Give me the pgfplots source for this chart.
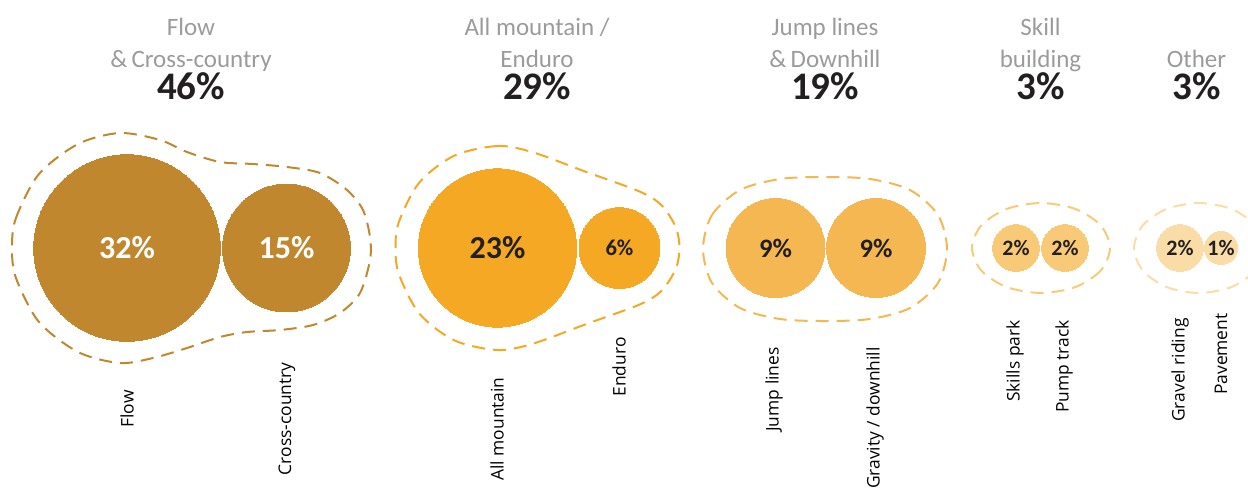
\documentclass[border=0pt]{standalone}
\usepackage{pgfplots}
\pgfplotsset{compat=1.18}
\usepackage{fontspec}
\setmainfont{Open Sans}
\newfontfamily\tfont{Carlito}
\definecolor{cA}{HTML}{C1872E}
\definecolor{cB}{HTML}{F4A824}
\definecolor{cC}{HTML}{F5B752}
\definecolor{cD}{HTML}{F8CA78}
\definecolor{cE}{HTML}{FADDA6}
\definecolor{tgray}{HTML}{9B9B9D}
\definecolor{tdark}{HTML}{231F20}
\tikzset{gt/.style={anchor=base, inner sep=0pt, text=tgray, font=\tfont\fontsize{12.5}{12.5}\selectfont},
         gp/.style={anchor=base, inner sep=0pt, text=tdark, font=\tfont\bfseries\fontsize{19.5}{19.5}\selectfont},
         cl/.style={rotate=90, anchor=east, inner sep=0pt, text=black, font=\fontsize{8.7}{8.7}\selectfont}}
\pgfplotsset{
  bub/.style={only marks, mark=*, color=#1, mark options={draw=#1, fill=#1, line width=0pt}},
  lab/.style 2 args={only marks, mark=none,
    point meta=explicit symbolic,
    nodes near coords={\tfont\bfseries\fontsize{#2}{#2}\selectfont\pgfplotspointmeta\%},
    nodes near coords align=center,
    every node near coord/.append style={text=#1, inner sep=0pt, anchor=center}},
  outl/.style={draw=#1, line width=1pt, dash pattern=on 6.5pt off 4pt, smooth cycle, no marks, fill=none}
}
\begin{document}
\begin{tikzpicture}
\begin{axis}[
  width=624pt, height=244.5pt, scale only axis,
  xmin=0, xmax=1248, ymin=0, ymax=489, y dir=reverse,
  hide axis, clip=true]
\coordinate (LL) at (rel axis cs:0,0);
\coordinate (UR) at (rel axis cs:1,1);
% outlines
\addplot[outl=cA] coordinates {(12,248) (15.9,218.2) (38.9,174.1) (78.4,143.8) (120,133) (160,140) (187,152) (220,162) (253,164) (287,167) (320,173) (347,190) (363,210) (370,237) (370,260) (360,293) (340,313) (313,325) (280,330) (247,332) (220,337) (187,348) (153,358) (120,363) (78.4,352.2) (38.9,321.9) (15.9,277.8)};
\addplot[outl=cB] coordinates {(532.6,152.2) (497.5,146) (454.4,155.6) (419.4,182.4) (399,221.6) (395.5,248) (399,274.4) (419.4,313.6) (454.4,340.4) (497.5,350) (532.6,343.8) (586.4,324) (640.1,304.3) (661.9,290.4) (675.9,268.5) (679.5,248) (675.9,227.5) (661.9,205.6) (640.1,191.7) (586.4,172)};
\addplot[outl=cC] coordinates {(703,249) (712,215) (740,190) (780,179) (825,177) (870,179) (910,190) (938,215) (947,249) (938,283) (910,308) (870,319) (825,321) (780,319) (740,308) (712,283)};
\addplot[outl=cD] coordinates {(1110,248) (1100.8,270.5) (1075.5,287) (1041,293) (1006.5,287) (981.2,270.5) (972,248) (981.2,225.5) (1006.5,209) (1041,203) (1075.5,209) (1100.8,225.5)};
\addplot[outl=cE] coordinates {(1264,248) (1255.3,270.5) (1231.5,287) (1199,293) (1166.5,287) (1142.7,270.5) (1134,248) (1142.7,225.5) (1166.5,209) (1199,203) (1231.5,209) (1255.3,225.5)};
% bubbles: area proportional to the share (radius = 8.25pt * sqrt(share))
\addplot[bub=cA, mark size={8.25*sqrt(32)}] coordinates {(127,248)};
\addplot[bub=cA, mark size={8.25*sqrt(15)}] coordinates {(286.5,248)};
\addplot[bub=cB, mark size={8.25*sqrt(23)}] coordinates {(497.5,248)};
\addplot[bub=cB, mark size={8.25*sqrt(6)}] coordinates {(619.5,248)};
\addplot[bub=cC, mark size={8.25*sqrt(9)}] coordinates {(775.5,248)};
\addplot[bub=cC, mark size={8.25*sqrt(9)}] coordinates {(876,248)};
\addplot[bub=cD, mark size={8.25*sqrt(2)}] coordinates {(1016,248)};
\addplot[bub=cD, mark size={8.25*sqrt(2)}] coordinates {(1065,248)};
\addplot[bub=cE, mark size={8.25*sqrt(2)}] coordinates {(1180,248)};
\addplot[bub=cE, mark size={8.25*sqrt(1)}] coordinates {(1221,248)};
% values inside bubbles
\addplot[lab={white}{16}] coordinates {(127,248) [32] (286.5,248) [15]};
\addplot[lab={tdark}{16}] coordinates {(497.5,248) [23]};
\addplot[lab={tdark}{11.3}] coordinates {(619.5,248) [6]};
\addplot[lab={tdark}{13.3}] coordinates {(775.5,248) [9] (876,248) [9]};
\addplot[lab={tdark}{11}] coordinates {(1016,248) [2] (1065,248) [2] (1180,248) [2] (1221,248) [1]};
% group titles
\node[gt] at (axis cs:191,35) {Flow};
\node[gt] at (axis cs:191,67) {\&\,Cross-country};
\node[gp] at (axis cs:191,99) {46\%};
\node[gt] at (axis cs:537,35) {All mountain /};
\node[gt] at (axis cs:537,67) {Enduro};
\node[gp] at (axis cs:537,99) {29\%};
\node[gt] at (axis cs:825,35) {Jump lines};
\node[gt] at (axis cs:825,67) {\&\,Downhill};
\node[gp] at (axis cs:825,99) {19\%};
\node[gt] at (axis cs:1040.5,35) {Skill};
\node[gt] at (axis cs:1040.5,67) {building};
\node[gp] at (axis cs:1040.5,99) {3\%};
\node[gt] at (axis cs:1196.5,67) {Other};
\node[gp] at (axis cs:1196.5,99) {3\%};
% category labels
\node[cl] at (axis cs:127,390) {Flow};
\node[cl] at (axis cs:287,362) {Cross-country};
\node[cl] at (axis cs:497,377) {All mountain};
\node[cl] at (axis cs:619,337) {Enduro};
\node[cl] at (axis cs:774,347) {Jump lines};
\node[cl] at (axis cs:875,347) {Gravity / downhill};
\node[cl] at (axis cs:1015,320) {Skills park};
\node[cl] at (axis cs:1064,320) {Pump track};
\node[cl] at (axis cs:1180,318) {Gravel riding};
\node[cl] at (axis cs:1221,313) {Pavement};
\end{axis}
\pgfresetboundingbox
\useasboundingbox (LL) rectangle (UR);
\end{tikzpicture}
\end{document}
